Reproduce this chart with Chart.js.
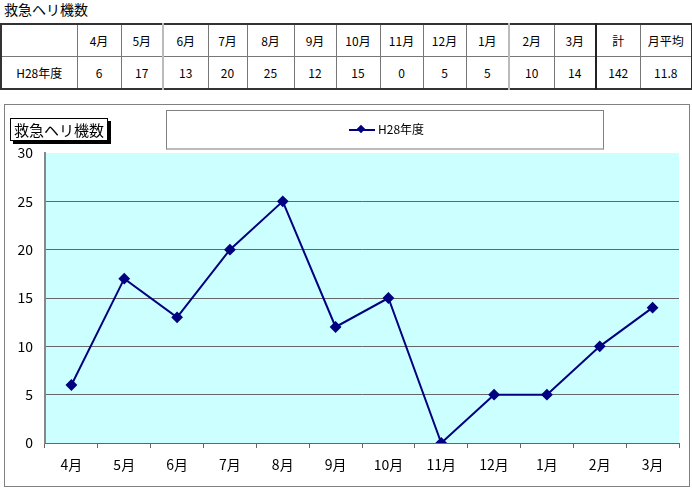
<!DOCTYPE html>
<html><head><meta charset="utf-8">
<script src="https://cdn.jsdelivr.net/npm/chart.js@4"></script>
<style>
html,body{margin:0;padding:0;background:#fff;width:692px;height:488px;overflow:hidden;font-family:"Noto Sans CJK JP","Noto Sans",sans-serif;}
#title{position:absolute;left:4px;top:-1px;font-size:14px;color:#000;}
#tbl{position:absolute;left:0;top:23px;border-collapse:collapse;table-layout:fixed;width:691px;font-size:12px;}
#tbl td{border:1px solid #777;height:31px;padding:0;text-align:center;color:#000;}
#tbl{border:2px solid #333;}
#tbl td.lb{border-left:2px solid #bbb;}
#tbl td.tk{border-left:2px solid #222;}
#frame{position:absolute;left:4px;top:104px;width:684px;height:381px;border:1px solid #808080;}
#cv{position:absolute;left:5px;top:105px;}
#ctitle{position:absolute;left:10px;top:118px;width:96px;height:21px;border:1px solid #000;background:#fff;box-shadow:3px 3px 0 #000;font-size:15px;line-height:21px;text-align:center;}
#legend{position:absolute;left:166px;top:110px;width:436px;height:37px;border:1px solid #808080;border-bottom:2px solid #bbb;background:#fff;}
#legline{position:absolute;left:182px;top:18px;width:26px;height:2px;background:#000080;}
#legdot{position:absolute;left:191px;top:15px;width:6px;height:6px;background:#000080;transform:rotate(45deg);}
#legtxt{position:absolute;left:211px;top:9px;font-size:12px;line-height:18px;}
</style></head><body>
<div id="title">救急ヘリ機数</div>
<table id="tbl"><colgroup id="cg"></colgroup><tbody id="tb"></tbody></table>
<div id="frame"></div>
<canvas id="cv" width="684" height="381" style="width:684px;height:381px"></canvas>
<div id="ctitle">救急ヘリ機数</div>
<div id="legend"><div id="legline"></div><div id="legdot"></div><div id="legtxt">H28年度</div></div>
<script>
const categories = ["4月","5月","6月","7月","8月","9月","10月","11月","12月","1月","2月","3月"];
const seriesName = "H28年度";
const values = [6,17,13,20,25,12,15,0,5,5,10,14];
const summaryLabels = ["計","月平均"];
const summaryValues = ["142","11.8"];
const yTicks = [0,5,10,15,20,25,30];

// table
const widths=[76,44,42,45,39,47,42,44,43,43,43,45,42,44,52];
const cg=document.getElementById('cg');
widths.forEach(w=>{const c=document.createElement('col');c.style.width=w+'px';cg.appendChild(c);});
const tb=document.getElementById('tb');
function mkRow(first, cells){
  const tr=document.createElement('tr');
  const all=[first,...cells];
  all.forEach((t,i)=>{const td=document.createElement('td');td.textContent=t;
    if(i===3||i===11) td.className='lb';
    if(i===13) td.className='tk';
    tr.appendChild(td);});
  tb.appendChild(tr);
}
mkRow("",[...categories,...summaryLabels]);
mkRow(seriesName,[...values.map(String),...summaryValues]);

const font={family:'"Noto Sans CJK JP","Noto Sans",sans-serif',size:14};
const bgPlugin={id:'bg',beforeDraw(c){const a=c.chartArea,x=c.ctx;x.save();x.fillStyle='#CCFFFF';x.fillRect(a.left,a.top,a.right-a.left,a.bottom-a.top);x.restore();}};
new Chart(document.getElementById('cv'),{
  type:'line',
  data:{labels:categories,datasets:[{label:seriesName,data:values,borderColor:'#000080',backgroundColor:'#000080',borderWidth:2,pointStyle:'rectRot',pointRadius:4.5,pointHoverRadius:4.5,tension:0}]},
  options:{responsive:false,animation:false,devicePixelRatio:1,
    layout:{padding:{top:48,right:10,left:0,bottom:0}},
    plugins:{legend:{display:false},tooltip:{enabled:false}},
    scales:{
      y:{min:0,max:30,afterBuildTicks(s){s.ticks=yTicks.map(v=>({value:v}));},
        afterFit(s){s.width=40;},
        grid:{color:ctx=>ctx.tick&&ctx.tick.value===30?'rgba(0,0,0,0)':'#666',lineWidth:1,drawTicks:false},
        border:{color:'#888',width:2},
        ticks:{color:'#000',font,padding:12}},
      x:{offset:true,afterFit(s){s.height=43;},
        grid:{offset:true,drawOnChartArea:false,drawTicks:true,tickLength:5,color:'#666'},
        border:{color:'#666',width:1},
        ticks:{color:'#000',font,padding:8,maxRotation:0}}
    }},
  plugins:[bgPlugin]
});
</script>
</body></html>
